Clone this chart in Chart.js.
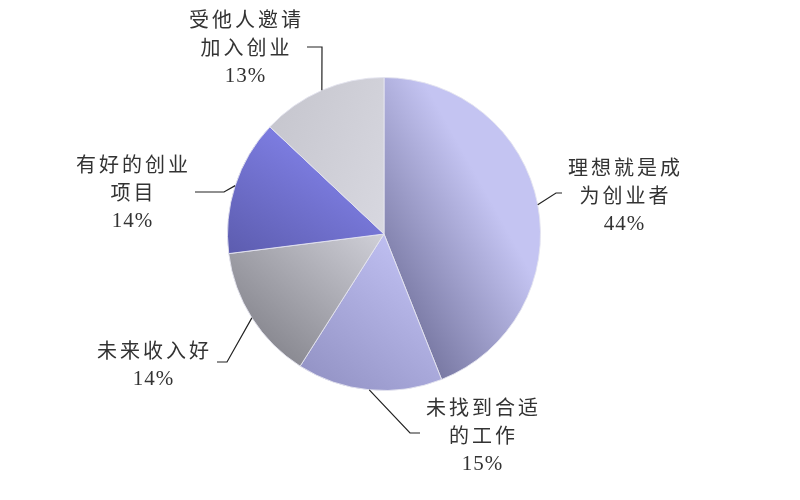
<!DOCTYPE html>
<html>
<head>
<meta charset="utf-8">
<script src="https://cdn.jsdelivr.net/npm/chart.js@4.4.0/dist/chart.umd.min.js"></script>
<style>
  body { margin: 0; background: #fff; }
  .wrap { width: 800px; height: 500px; position: relative; }
</style>
</head>
<body>
<div class="wrap"><canvas id="myChart"></canvas></div>
<script>
// chart data
const categories = ['理想就是成为创业者', '未找到合适的工作', '未来收入好', '有好的创业项目', '受他人邀请加入创业'];
const shares = [44, 15, 14, 14, 13];

// slice colours, light end then dark end of each gradient
const lightColors = ['#c4c4f2', '#c6c6f8', '#d0d0d8', '#8484ec', '#dadae2'];
const darkColors  = ['#72729c', '#9090c2', '#86868e', '#5858a8', '#c6c6ce'];
// gradient direction per slice, in radius units from the centre (light point, dark point)
const gradDir = [
    [[0.8, 0], [0, 0.45]],
    [[0.3, 0], [-0.5, 1]],
    [[0, 0], [-0.7, 0.8]],
    [[-0.4, -0.7], [-1, 0.25]],
    [[0.2, -0.2], [-0.8, -0.6]]
];

// label placement, px from the pie centre: text block, leader elbow, leader end
const labelPos = [
    { tx: 240, ty: -39, elbow: [172, -41], end: [178, -41] },
    { tx: 98, ty: 201, elbow: [26, 199], end: [36, 199] },
    { tx: -231, ty: 130, elbow: [-157, 128], end: [-167, 128] },
    { tx: -252, ty: -42, elbow: [-160, -42], end: [-189, -42] },
    { tx: -139, ty: -187, elbow: [-62, -187], end: [-77, -187] }
];

function sliceFill(context) {
    const i = context.dataIndex;
    const chart = context.chart;
    const area = chart.chartArea;
    if (!area) return lightColors[i];
    const cx = (area.left + area.right) / 2;
    const cy = (area.top + area.bottom) / 2;
    const r = Math.min(area.right - area.left, area.bottom - area.top) / 2;
    const d = gradDir[i];
    const g = chart.ctx.createLinearGradient(cx + d[0][0] * r, cy + d[0][1] * r, cx + d[1][0] * r, cy + d[1][1] * r);
    g.addColorStop(0, lightColors[i]);
    g.addColorStop(1, darkColors[i]);
    return g;
}

// outside labels with leader lines
const outsideLabels = {
    id: 'outsideLabels',
    afterDraw(chart) {
        const ctx = chart.ctx;
        const arcs = chart.getDatasetMeta(0).data;
        ctx.save();
        arcs.forEach((arc, i) => {
            const p = arc.getProps(['x', 'y', 'startAngle', 'endAngle', 'outerRadius'], true);
            const mid = (p.startAngle + p.endAngle) / 2;
            const sx = p.x + Math.cos(mid) * p.outerRadius;
            const sy = p.y + Math.sin(mid) * p.outerRadius;
            const lp = labelPos[i];

            ctx.strokeStyle = '#222';
            ctx.lineWidth = 1.2;
            ctx.beginPath();
            ctx.moveTo(sx, sy);
            ctx.lineTo(p.x + lp.elbow[0], p.y + lp.elbow[1]);
            ctx.lineTo(p.x + lp.end[0], p.y + lp.end[1]);
            ctx.stroke();

            const name = categories[i];
            const lines = [];
            for (let k = 0; k < name.length; k += 5) lines.push(name.slice(k, k + 5));

            ctx.fillStyle = '#333';
            ctx.textAlign = 'center';
            ctx.textBaseline = 'middle';
            const lh = 28;
            const top = p.y + lp.ty - lines.length * lh / 2;
            ctx.font = '20px "Noto Sans CJK SC", sans-serif';
            ctx.letterSpacing = '3px';
            lines.forEach((t, k) => {
                ctx.fillText(t, p.x + lp.tx + 1.5, top + k * lh);
            });
            // percentage line
            ctx.font = '21px "Liberation Serif", serif';
            ctx.letterSpacing = '1px';
            ctx.fillText(shares[i] + '%', p.x + lp.tx + 0.5, top + lines.length * lh + 1);
        });
        ctx.restore();
    }
};

const ctx = document.getElementById('myChart').getContext('2d');
const myChart = new Chart(ctx, {
    type: 'pie',
    data: {
        labels: categories,
        datasets: [{
            data: shares,
            backgroundColor: sliceFill,
            borderColor: 'rgba(228,228,240,0.9)',
            borderWidth: 1
        }]
    },
    options: {
        responsive: true,
        maintainAspectRatio: false,
        animation: false,
        layout: {
            padding: { top: 77, bottom: 109, left: 227, right: 259 }
        },
        plugins: {
            legend: { display: false },
            tooltip: { enabled: false }
        }
    },
    plugins: [outsideLabels]
});
</script>
</body>
</html>
